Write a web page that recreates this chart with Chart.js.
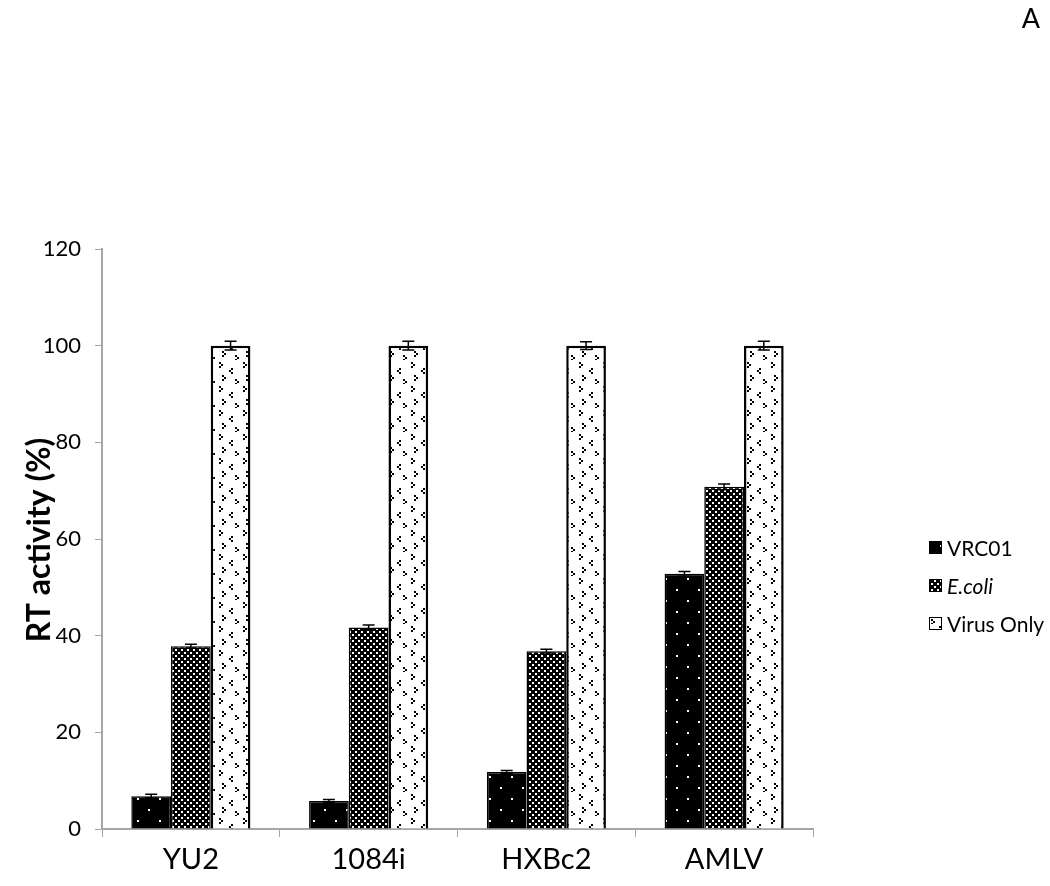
<!DOCTYPE html>
<html>
<head>
<meta charset="utf-8">
<script src="https://cdn.jsdelivr.net/npm/chart.js@4.4.0/dist/chart.umd.min.js"></script>
<style>
  body { margin: 0; background: #fff; }
  #wrap { width: 1050px; height: 886px; }
</style>
</head>
<body>
<div id="wrap"><canvas id="chart" width="1050" height="886"></canvas></div>
<script>
const categories = ["YU2", "1084i", "HXBc2", "AMLV"]
const vrc01 = [6.8, 5.8, 11.8, 52.8]
const ecoli = [37.8, 41.7, 36.8, 70.8]
const virusOnly = [100, 100, 100, 100]
const vrc01Err = [0.4, 0.3, 0.3, 0.5]
const ecoliErr = [0.4, 0.5, 0.4, 0.6]
const virusErr = [0.9, 0.9, 0.8, 0.9]
const yTicks = [0, 20, 40, 60, 80, 100, 120]

const fontName = "Lato, 'Open Sans', sans-serif"
const axisGrey = '#a6a6a6'

// small canvas patterns to imitate the Excel fills
function makePattern(size, bg, fg, dots) {
  const c = document.createElement('canvas')
  c.width = size
  c.height = size
  const g = c.getContext('2d')
  g.fillStyle = bg
  g.fillRect(0, 0, size, size)
  g.fillStyle = fg
  dots.forEach(d => g.fillRect(d[0], d[1], d[2] || 2, d[3] || 2))
  return g.createPattern(c, 'repeat')
}

const ctxMain = document.getElementById('chart').getContext('2d')

const vrcFill = makePattern(22, '#000', '#fff', [[5, 6], [16, 17]])
const ecoliFill = makePattern(6, '#000', '#fff', [[1, 1], [4, 4]])
const virusFill = makePattern(24, '#fff', '#000', [
  [3, 2], [5, 4], [3, 6],
  [15, 8], [13, 10], [15, 12],
  [6, 15], [8, 17], [6, 19],
  [19, 19], [21, 21], [19, 23]
])

const errorBars = {
  id: 'errorBars',
  afterDatasetsDraw(chart) {
    const c = chart.ctx
    const y = chart.scales.y
    const errs = [vrc01Err, ecoliErr, virusErr]
    c.save()
    c.strokeStyle = '#000'
    c.lineWidth = 1.5
    chart.data.datasets.forEach((ds, i) => {
      chart.getDatasetMeta(i).data.forEach((bar, j) => {
        const v = ds.data[j]
        const top = y.getPixelForValue(v + errs[i][j])
        const bot = y.getPixelForValue(v - errs[i][j])
        c.beginPath()
        c.moveTo(bar.x, top); c.lineTo(bar.x, bot)
        c.moveTo(bar.x - 6, top); c.lineTo(bar.x + 6, top)
        c.moveTo(bar.x - 6, bot); c.lineTo(bar.x + 6, bot)
        c.stroke()
      })
    })
    c.restore()
  }
}

const extras = {
  id: 'extras',
  afterDraw(chart) {
    const c = chart.ctx
    c.save()
    c.fillStyle = '#000'
    // panel letter
    c.font = "27px " + fontName
    c.textAlign = 'center'
    c.textBaseline = 'middle'
    c.fillText('A', 1031, 19)
    // y axis title
    c.save()
    c.translate(40, 540)
    c.rotate(-Math.PI / 2)
    c.font = "bold 32px " + fontName
    c.fillText('RT activity (%)', 0, 0)
    c.restore()
    // legend
    const items = [
      { text: 'VRC01', fill: vrcFill, italic: false, y: 548 },
      { text: 'E.coli', fill: ecoliFill, italic: true, y: 586 },
      { text: 'Virus Only', fill: virusFill, italic: false, y: 624 }
    ]
    c.textAlign = 'left'
    items.forEach(it => {
      c.fillStyle = it.fill
      c.fillRect(929, it.y - 7, 13, 13)
      c.strokeStyle = '#000'
      c.lineWidth = 1
      c.strokeRect(929.5, it.y - 6.5, 12, 12)
      c.fillStyle = '#000'
      c.font = (it.italic ? 'italic ' : '') + "21px " + fontName
      c.fillText(it.text, 947, it.y + 1)
    })
    c.restore()
  }
}

new Chart(ctxMain, {
  type: 'bar',
  data: {
    labels: categories,
    datasets: [
      { label: 'VRC01', data: vrc01, backgroundColor: vrcFill, borderColor: '#000', borderWidth: 1.5 },
      { label: 'E.coli', data: ecoli, backgroundColor: ecoliFill, borderColor: '#000', borderWidth: 1.5 },
      { label: 'Virus Only', data: virusOnly, backgroundColor: virusFill, borderColor: '#000', borderWidth: 2.5 }
    ]
  },
  options: {
    responsive: false,
    animation: false,
    layout: { padding: { left: 0, right: 237, top: 249, bottom: 0 } },
    plugins: {
      legend: { display: false },
      tooltip: { enabled: false }
    },
    datasets: {
      bar: { categoryPercentage: 0.67, barPercentage: 1.0 }
    },
    scales: {
      x: {
        grid: { drawOnChartArea: false, color: axisGrey, tickLength: 8, offset: true },
        border: { color: axisGrey, width: 2 },
        ticks: { color: '#000', font: { family: fontName, size: 29 }, padding: 5 },
        afterFit: s => { s.height = 57 }
      },
      y: {
        min: 0,
        max: 120,
        grid: { drawOnChartArea: false, color: axisGrey, tickLength: 7 },
        border: { color: axisGrey, width: 2 },
        afterBuildTicks: s => { s.ticks = yTicks.map(v => ({ value: v })) },
        ticks: { color: '#000', font: { family: fontName, size: 22 }, padding: 14 },
        afterFit: s => { s.width = 102 }
      }
    }
  },
  plugins: [errorBars, extras]
})
</script>
</body>
</html>
